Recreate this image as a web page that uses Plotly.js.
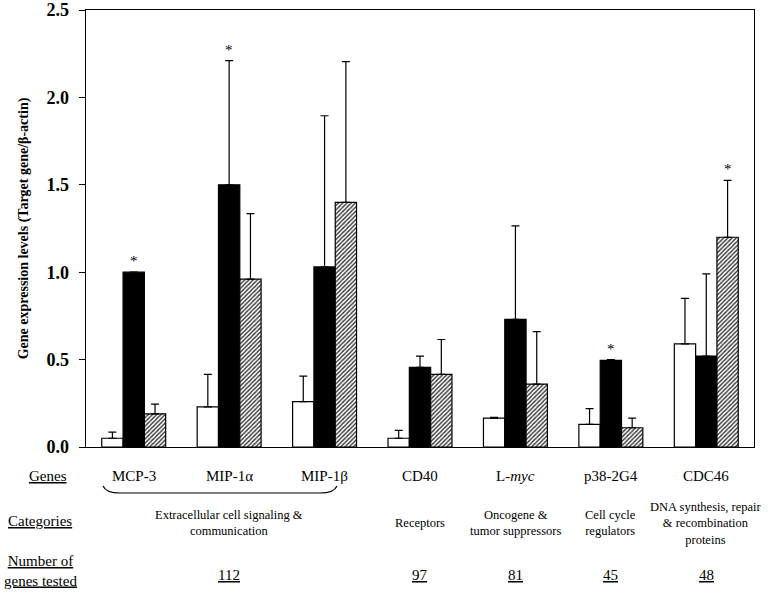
<!DOCTYPE html>
<html>
<head>
<meta charset="utf-8">
<script src="https://cdn.plot.ly/plotly-3.0.1.min.js"></script>
<style>html,body{margin:0;padding:0;background:#fff;}#chart{width:775px;height:598px;}</style>
</head>
<body>
<div id="chart"></div>
<script>
// ---- data ----
const genes = ["MCP-3", "MIP-1α", "MIP-1β", "CD40", "L-<i>myc</i>", "p38-2G4", "CDC46"];
const seriesWhite = [0.05, 0.23, 0.26, 0.05, 0.165, 0.13, 0.59];
const errWhite    = [0.035, 0.185, 0.145, 0.045, 0.005, 0.09, 0.26];
const seriesBlack = [1.00, 1.50, 1.03, 0.455, 0.73, 0.495, 0.52];
const errBlack    = [0.0, 0.71, 0.865, 0.065, 0.535, 0.005, 0.47];
const seriesHatch = [0.19, 0.96, 1.40, 0.415, 0.36, 0.11, 1.20];
const errHatch    = [0.055, 0.375, 0.805, 0.20, 0.30, 0.055, 0.325];
// significance marks: [gene index, series index (0 white, 1 black, 2 hatched)]
const stars = [[0, 1], [1, 1], [5, 1], [6, 2]];
const categoryLabels = ["Extracellular cell signaling &<br>communication", "Receptors", "Oncogene &<br>tumor suppressors", "Cell cycle<br>regulators", "DNA synthesis, repair<br>& recombination<br>proteins"];
const categoryAt = [1, 3, 4, 5, 6];
const genesTested = ["112", "97", "81", "45", "48"];
const yTicks = [0, 0.5, 1.0, 1.5, 2.0, 2.5];

// ---- layout constants ----
const W = 775, H = 598;
const M = {l: 86, r: 21, t: 10, b: 151};
const plotW = W - M.l - M.r, plotH = H - M.t - M.b;
const bargap = 0.33;
const barW = plotW / genes.length * (1 - bargap) / 3;
const serif = "'Liberation Serif', 'Times New Roman', serif";
const pyToPaper = py => (H - M.b - py) / plotH;
const pxToPaper = px => (px - M.l) / plotW;

const x = genes.map((g, i) => i);
const errStyle = (arr) => ({type: 'data', array: arr, arrayminus: arr.map(() => 0), symmetric: false, visible: true, color: '#000', thickness: 1.2, width: 4});

const traces = [
  {type: 'bar', x: x, y: seriesWhite, error_y: errStyle(errWhite), marker: {color: '#fff', line: {color: '#000', width: 1.2}}},
  {type: 'bar', x: x, y: seriesBlack, error_y: errStyle(errBlack), marker: {color: '#000', line: {color: '#000', width: 1.2}}},
  {type: 'bar', x: x, y: seriesHatch, error_y: errStyle(errHatch), marker: {color: '#fff', line: {color: '#000', width: 1.2}, pattern: {shape: '/', fgcolor: '#333', bgcolor: '#fff', size: 3, solidity: 0.45}}}
];

const vals = [seriesWhite, seriesBlack, seriesHatch];
const errs = [errWhite, errBlack, errHatch];
const annotations = [];
stars.forEach(([gi, si]) => {
  annotations.push({x: gi, y: vals[si][gi] + errs[si][gi], xref: 'x', yref: 'y', text: '*', showarrow: false,
    xshift: (si - 1) * barW, yanchor: 'bottom', yshift: 1, font: {family: serif, size: 15, color: '#000'}});
});
genes.forEach((g, i) => {
  annotations.push({x: i, y: pyToPaper(476), xref: 'x', yref: 'paper', text: g, showarrow: false, yanchor: 'middle',
    font: {family: serif, size: 15, color: '#000'}});
});
categoryLabels.forEach((c, k) => {
  annotations.push({x: categoryAt[k], y: pyToPaper(523), xref: 'x', yref: 'paper', text: c, showarrow: false, yanchor: 'middle', align: 'center',
    font: {family: serif, size: 12.5, color: '#000'}});
});
genesTested.forEach((n, k) => {
  annotations.push({x: categoryAt[k], y: pyToPaper(575), xref: 'x', yref: 'paper', text: '<u>' + n + '</u>', showarrow: false, yanchor: 'middle',
    font: {family: serif, size: 15, color: '#000'}});
});
annotations.push({x: pxToPaper(48), y: pyToPaper(476), xref: 'paper', yref: 'paper', xanchor: 'center', yanchor: 'middle', text: '<u>Genes</u>', showarrow: false, font: {family: serif, size: 15, color: '#000'}});
annotations.push({x: pxToPaper(40), y: pyToPaper(521), xref: 'paper', yref: 'paper', xanchor: 'center', yanchor: 'middle', text: '<u>Categories</u>', showarrow: false, font: {family: serif, size: 15, color: '#000'}});
annotations.push({x: pxToPaper(40), y: pyToPaper(571), xref: 'paper', yref: 'paper', xanchor: 'center', yanchor: 'middle', text: '<u>Number of</u><br><u>genes tested</u>', showarrow: false, font: {family: serif, size: 15, color: '#000'}});

// brace under the first three genes
const bx0 = pxToPaper(103), bx1 = pxToPaper(337), byTop = pyToPaper(486), byBot = pyToPaper(493);
const brace = {type: 'path', xref: 'paper', yref: 'paper',
  path: `M ${bx0},${byTop} Q ${pxToPaper(106)},${byBot} ${pxToPaper(120)},${byBot} L ${pxToPaper(320)},${byBot} Q ${pxToPaper(334)},${byBot} ${bx1},${byTop}`,
  line: {color: '#000', width: 1.2}};

const layout = {
  width: W, height: H,
  margin: M,
  paper_bgcolor: '#fff', plot_bgcolor: '#fff',
  showlegend: false,
  barmode: 'group', bargap: bargap, bargroupgap: 0,
  xaxis: {type: 'linear', range: [-0.5, genes.length - 0.5], showticklabels: false, ticks: '', showgrid: false, zeroline: false,
    showline: true, linecolor: '#000', linewidth: 1.3, mirror: true},
  yaxis: {range: [0, 2.5], tickvals: yTicks, tickformat: '.1f', ticks: 'outside', ticklen: 6, tickcolor: '#000', showgrid: false, zeroline: false,
    showline: true, linecolor: '#000', linewidth: 1.3, mirror: true, ticklabelstandoff: 6,
    tickfont: {family: serif, size: 18, color: '#000', weight: 'bold'},
    title: {text: 'Gene expression levels (Target gene/β-actin)', standoff: 14, font: {family: serif, size: 14, color: '#000', weight: 'bold'}}},
  annotations: annotations,
  shapes: [brace]
};

Plotly.newPlot('chart', traces, layout, {displayModeBar: false, staticPlot: true});
</script>
</body>
</html>
